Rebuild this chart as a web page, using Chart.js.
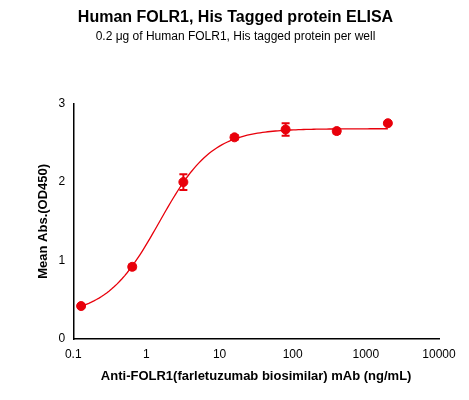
<!DOCTYPE html>
<html>
<head>
<script src="https://cdn.jsdelivr.net/npm/chart.js@4"></script>
<style>
html,body{margin:0;padding:0;background:#fff;}
#wrap{width:469px;height:400px;}
</style>
</head>
<body>
<div id="wrap"><canvas id="c"></canvas></div>
<script>
const concentrations = [0.128, 0.64, 3.2, 16, 80, 400, 2000];
const meanOD = [0.42, 0.92, 2.0, 2.57, 2.67, 2.65, 2.75];
const errOD = [0.02, 0.03, 0.1, 0.03, 0.08, 0.03, 0.02];
const xTicks = [0.1, 1, 10, 100, 1000, 10000];
const yTicks = [0, 1, 2, 3];
// 4PL fit parameters
const fitBottom = 0.3, fitTop = 2.68, fitEC50 = 1.5, fitHill = 1.2;

const fit = [];
for (let i = 0; i <= 120; i++) {
  const x = Math.pow(10, Math.log10(0.128) + i * (Math.log10(2000) - Math.log10(0.128)) / 120);
  const y = fitBottom + (fitTop - fitBottom) * Math.pow(x / fitEC50, fitHill) / (1 + Math.pow(x / fitEC50, fitHill));
  fit.push({x, y});
}

const errorBars = {
  id: 'errorBars',
  afterDatasetsDraw(chart) {
    const {ctx, scales: {x, y}} = chart;
    ctx.save();
    ctx.strokeStyle = '#e8000b';
    ctx.lineWidth = 2;
    concentrations.forEach((c, i) => {
      const px = x.getPixelForValue(c);
      const top = y.getPixelForValue(meanOD[i] + errOD[i]);
      const bot = y.getPixelForValue(meanOD[i] - errOD[i]);
      ctx.beginPath();
      ctx.moveTo(px, top); ctx.lineTo(px, bot);
      ctx.moveTo(px - 4, top); ctx.lineTo(px + 4, top);
      ctx.moveTo(px - 4, bot); ctx.lineTo(px + 4, bot);
      ctx.stroke();
    });
    ctx.restore();
  }
};

new Chart(document.getElementById('c'), {
  type: 'scatter',
  data: {
    datasets: [
      {
        data: concentrations.map((c, i) => ({x: c, y: meanOD[i]})),
        backgroundColor: '#e8000b', borderColor: '#e8000b',
        pointRadius: 4.5, showLine: false
      },
      {
        data: fit, showLine: true, borderColor: '#e8000b', borderWidth: 1.3,
        pointRadius: 0, fill: false
      }
    ]
  },
  options: {
    responsive: true, maintainAspectRatio: false, animation: false,
    layout: {padding: {left: 32, right: 30, top: 0, bottom: 12}},
    plugins: {
      legend: {display: false},
      tooltip: {enabled: false},
      title: {display: true, text: 'Human FOLR1, His Tagged protein ELISA', color: '#000',
        font: {family: 'Liberation Sans', size: 16, weight: 'bold'}, padding: {top: 8, bottom: 2}},
      subtitle: {display: true, text: '0.2 \u03bcg of Human FOLR1, His tagged protein per well', color: '#000',
        font: {family: 'Liberation Sans', size: 12}, padding: {bottom: 60}}
    },
    scales: {
      x: {
        type: 'logarithmic', min: 0.1, max: 10000,
        afterBuildTicks: s => { s.ticks = xTicks.map(v => ({value: v})); },
        ticks: {color: '#000', font: {family: 'Liberation Sans', size: 12},
          callback: v => String(v)},
        grid: {display: false, drawTicks: true, tickColor: '#000', tickLength: 5},
        border: {color: '#000', width: 1.5},
        title: {display: true, text: 'Anti-FOLR1(farletuzumab biosimilar) mAb (ng/mL)', color: '#000',
          font: {family: 'Liberation Sans', size: 13, weight: 'bold'}}
      },
      y: {
        min: 0, max: 3,
        afterBuildTicks: s => { s.ticks = yTicks.map(v => ({value: v})); },
        ticks: {color: '#000', font: {family: 'Liberation Sans', size: 12}},
        grid: {display: false, drawTicks: true, tickColor: '#000', tickLength: 5},
        border: {color: '#000', width: 1.5},
        title: {display: true, text: 'Mean Abs.(OD450)', color: '#000',
          font: {family: 'Liberation Sans', size: 13, weight: 'bold'}}
      }
    }
  },
  plugins: [errorBars]
});
</script>
</body>
</html>
